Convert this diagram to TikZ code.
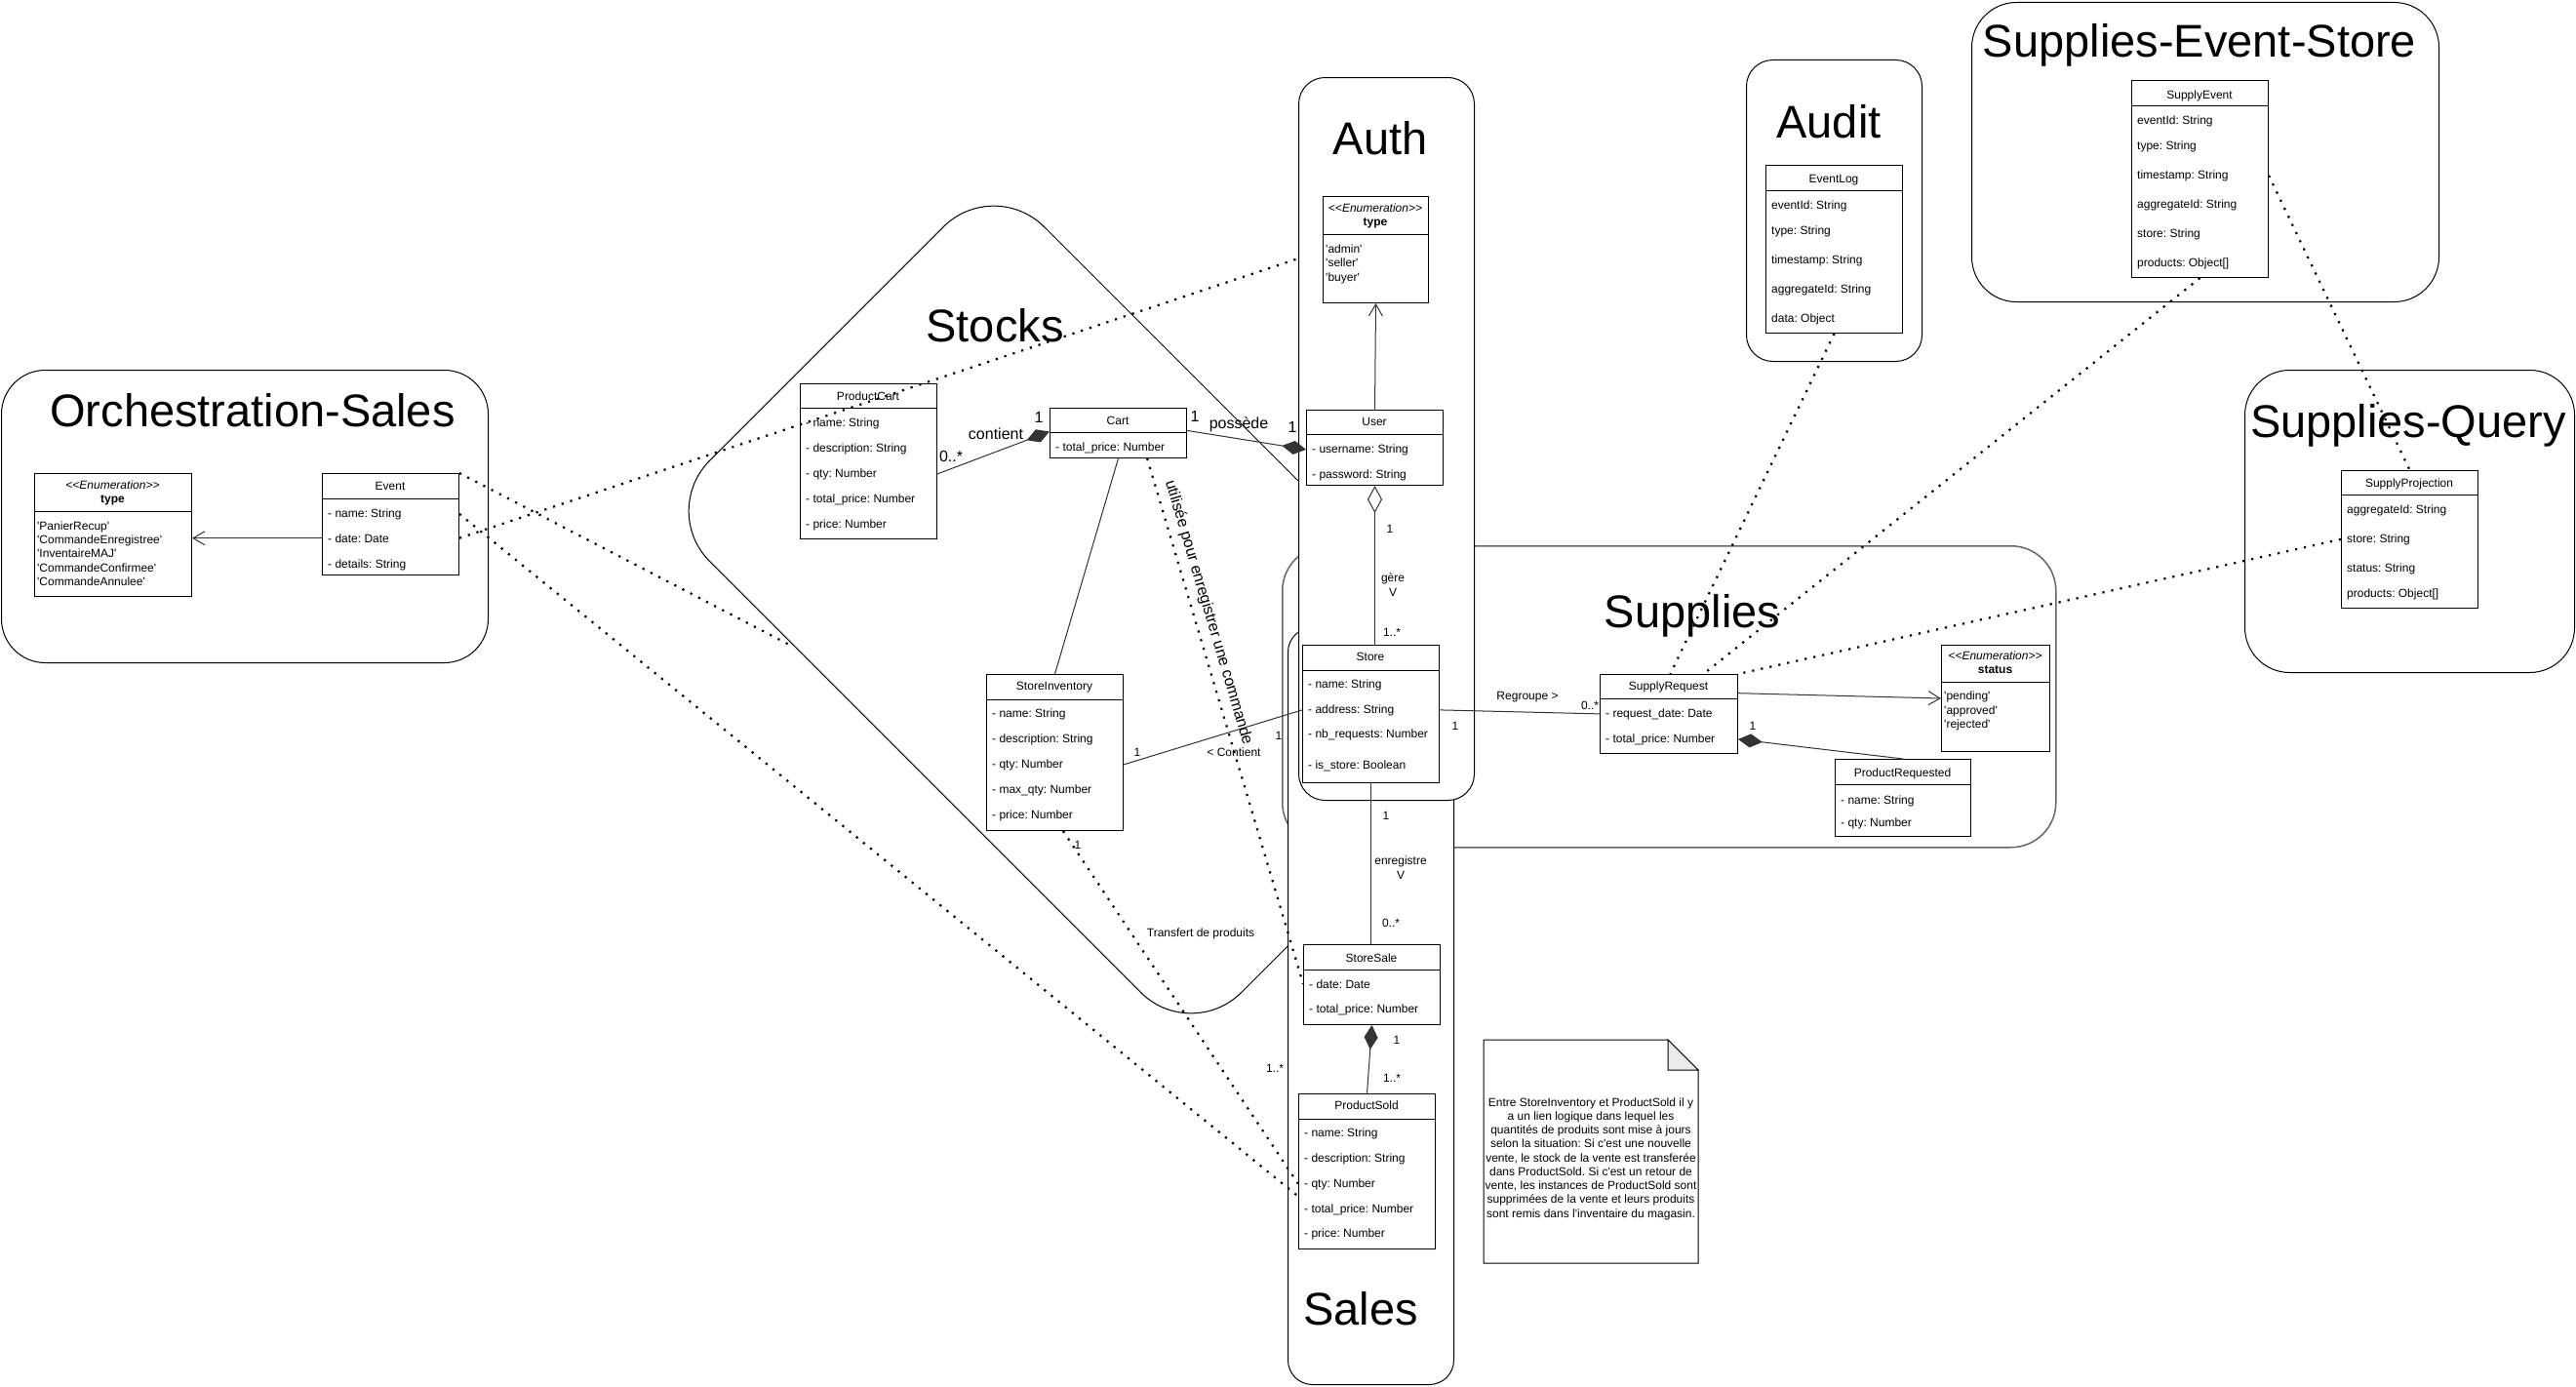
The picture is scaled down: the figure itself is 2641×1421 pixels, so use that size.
\documentclass[tikz,border=0pt]{standalone}
\usepackage{fontspec}
\setmainfont{Liberation Sans}
\usetikzlibrary{arrows.meta,calc}
\frenchspacing
\newcommand\myq{\textquotesingle}
\newcommand\umlclassbox[6]{%
  \node[umlbox, minimum width=#4pt, minimum height=#5pt] (#1) at (#2,#3) {};
  \draw[line width=1pt] ([yshift=-#6pt]#1.north west) -- ([yshift=-#6pt]#1.north east);}
\tikzset{
  umlbox/.style={draw=black, fill=white, line width=1pt, inner sep=0pt, anchor=north west},
  cont/.style={draw=black, fill=white, line width=1pt, inner sep=0pt, anchor=north west},
  ftw/.style={font=\fontsize{12}{14.25}\selectfont},
  attr/.style={ftw, inner sep=0pt, anchor=base west},
  hd/.style={ftw, inner sep=0pt, anchor=base},
  lbl/.style={ftw, inner sep=0pt, anchor=base},
  lblb/.style={font=\fontsize{16}{19}\selectfont, inner sep=0pt, anchor=base},
  ttl/.style={font=\fontsize{47}{56}\selectfont, inner sep=0pt, anchor=base},
  assoc/.style={draw=black!80, line width=1pt},
  dotline/.style={draw=black, line width=2.2pt, dash pattern=on 2.2pt off 7pt},
  openarr/.style={-{Straight Barb[length=12pt,width=14pt]}},
  compo/.style={{Diamond[length=25pt,width=14pt]}-},
  aggr/.style={{Diamond[open,fill=white,length=28pt,width=15pt]}-},
}
\begin{document}
\begin{tikzpicture}[x=1pt,y=-1pt]
\useasboundingbox (0,0) rectangle (2641,1421);
% ---------------- containers
\node[cont, anchor=center, rounded corners=73pt, minimum width=771pt, minimum height=485pt, rotate=-45] (stocks) at (1120,625) {};
\node[cont, rounded corners=45pt, minimum width=499pt, minimum height=300pt] (orch) at (1,379) {};
\node[cont, draw=black!60, line width=1.5pt, rounded corners=46pt, minimum width=793pt, minimum height=309pt] (supplies) at (1314,559) {};
\node[cont, rounded corners=25pt, minimum width=170pt, minimum height=776pt] (sales) at (1320,643) {};
\node[cont, rounded corners=27pt, minimum width=180pt, minimum height=741pt] (auth) at (1331,79) {};
\node[cont, rounded corners=27pt, minimum width=180pt, minimum height=309pt] (audit) at (1790,61) {};
\node[cont, rounded corners=46pt, minimum width=479pt, minimum height=307pt] (ses) at (2021,2) {};
\node[cont, rounded corners=46pt, minimum width=338pt, minimum height=310pt] (sq) at (2301,379) {};
% ---------------- titles
\node[ttl] (t-orch) at (259,437) {Orchestration-Sales};
\node[ttl] (t-stocks) at (1020,350) {Stocks};
\node[ttl] (t-auth) at (1415,158) {Auth};
\node[ttl] (t-audit) at (1875,141) {Audit};
\node[ttl] (t-ses) at (2255,59) {Supplies-Event-Store};
\node[ttl] (t-sq) at (2469,448) {Supplies-Query};
\node[ttl] (t-supplies) at (1735,643) {Supplies};
\node[ttl] (t-sales) at (1395,1358) {Sales};
% ---------------- Orchestration-Sales
\umlclassbox{event}{330}{485}{140}{104}{26}
\node[hd] (event-t) at (400,502) {Event};
\node[attr] (ev1) at (336,530) {- name: String};
\node[attr] (ev2) at (336,556) {- date: Date};
\node[attr] (ev3) at (336,582) {- details: String};
\umlclassbox{osenum}{35}{485}{161}{126}{39}
\node[hd] (osenum-s) at (115.5,501) {\itshape <{}<Enumeration>{}>};
\node[hd] (osenum-t) at (115.5,515) {\bfseries type};
\node[attr] (oe1) at (38,543) {\myq PanierRecup\myq};
\node[attr] (oe2) at (38,557) {\myq CommandeEnregistree\myq};
\node[attr] (oe3) at (38,571) {\myq InventaireMAJ\myq};
\node[attr] (oe4) at (38,586) {\myq CommandeConfirmee\myq};
\node[attr] (oe5) at (38,600) {\myq CommandeAnnulee\myq};
% ---------------- Stocks
\umlclassbox{pcart}{820}{393}{140}{159}{25}
\node[hd] (pcart-t) at (890,410) {ProductCart};
\node[attr] (pc1) at (826,437) {- name: String};
\node[attr] (pc2) at (826,463) {- description: String};
\node[attr] (pc3) at (826,489) {- qty: Number};
\node[attr] (pc4) at (826,515) {- total\_price: Number};
\node[attr] (pc5) at (826,541) {- price: Number};
\umlclassbox{cart}{1076}{418}{140}{51}{25}
\node[hd] (cart-t) at (1146,435) {Cart};
\node[attr] (ca1) at (1082,462) {- total\_price: Number};
\umlclassbox{sinv}{1011}{691}{140}{160}{26}
\node[hd] (sinv-t) at (1081,707) {StoreInventory};
\node[attr] (si1) at (1017,735) {- name: String};
\node[attr] (si2) at (1017,761) {- description: String};
\node[attr] (si3) at (1017,787) {- qty: Number};
\node[attr] (si4) at (1017,813) {- max\_qty: Number};
\node[attr] (si5) at (1017,839) {- price: Number};
% ---------------- Auth
\umlclassbox{authenum}{1356}{201}{108}{109}{39}
\node[hd] (authenum-s) at (1410,217) {\itshape <{}<Enumeration>{}>};
\node[hd] (authenum-t) at (1410,231) {\bfseries type};
\node[attr] (ae1) at (1359,259) {\myq admin\myq};
\node[attr] (ae2) at (1359,273) {\myq seller\myq};
\node[attr] (ae3) at (1359,288) {\myq buyer\myq};
\umlclassbox{user}{1339}{420}{140}{77}{25}
\node[hd] (user-t) at (1409,436) {User};
\node[attr] (us1) at (1345,464) {- username: String};
\node[attr] (us2) at (1345,490) {- password: String};
\umlclassbox{store}{1335}{661}{140}{141}{26}
\node[hd] (store-t) at (1405,677) {Store};
\node[attr] (st1) at (1341,705) {- name: String};
\node[attr] (st2) at (1341,731) {- address: String};
\node[attr] (st3) at (1341,756) {- nb\_requests: Number};
\node[attr] (st4) at (1341,788) {- is\_store: Boolean};
% ---------------- Sales
\umlclassbox{ssale}{1336}{968}{140}{82}{26}
\node[hd] (ssale-t) at (1406,986) {StoreSale};
\node[attr] (ss1) at (1342,1013) {- date: Date};
\node[attr] (ss2) at (1342,1038) {- total\_price: Number};
\umlclassbox{psold}{1331}{1121}{140}{159}{26}
\node[hd] (psold-t) at (1401,1137) {ProductSold};
\node[attr] (ps1) at (1337,1165) {- name: String};
\node[attr] (ps2) at (1337,1191) {- description: String};
\node[attr] (ps3) at (1337,1217) {- qty: Number};
\node[attr] (ps4) at (1337,1243) {- total\_price: Number};
\node[attr] (ps5) at (1337,1268) {- price: Number};
% ---------------- Supplies
\umlclassbox{sreq}{1640}{691}{141}{81}{25}
\node[hd] (sreq-t) at (1710.5,707) {SupplyRequest};
\node[attr] (sr1) at (1646,735) {- request\_date: Date};
\node[attr] (sr2) at (1646,761) {- total\_price: Number};
\umlclassbox{status}{1990}{661}{111}{109}{38}
\node[hd] (status-s) at (2045.5,676) {\itshape <{}<Enumeration>{}>};
\node[hd] (status-t) at (2045.5,690) {\bfseries status};
\node[attr] (sa1) at (1993,717) {\myq pending\myq};
\node[attr] (sa2) at (1993,732) {\myq approved\myq};
\node[attr] (sa3) at (1993,746) {\myq rejected\myq};
\umlclassbox{preq}{1881}{778}{139}{79}{26}
\node[hd] (preq-t) at (1950.5,796) {ProductRequested};
\node[attr] (pr1) at (1887,824) {- name: String};
\node[attr] (pr2) at (1887,847) {- qty: Number};
% ---------------- Audit
\umlclassbox{elog}{1810}{169}{140}{172}{26}
\node[hd] (elog-t) at (1880,187) {EventLog};
\node[attr] (el1) at (1816,214) {eventId: String};
\node[attr] (el2) at (1816,240) {type: String};
\node[attr] (el3) at (1816,270) {timestamp: String};
\node[attr] (el4) at (1816,300) {aggregateId: String};
\node[attr] (el5) at (1816,330) {data: Object};
% ---------------- Supplies-Event-Store
\umlclassbox{sevent}{2185}{82}{140}{202}{26}
\node[hd] (sevent-t) at (2255,101) {SupplyEvent};
\node[attr] (se1) at (2191,127) {eventId: String};
\node[attr] (se2) at (2191,153) {type: String};
\node[attr] (se3) at (2191,183) {timestamp: String};
\node[attr] (se4) at (2191,213) {aggregateId: String};
\node[attr] (se5) at (2191,243) {store: String};
\node[attr] (se6) at (2191,273) {products: Object[]};
% ---------------- Supplies-Query
\umlclassbox{sproj}{2400}{482}{140}{141}{25}
\node[hd] (sproj-t) at (2470,499) {SupplyProjection};
\node[attr] (sp1) at (2406,526) {aggregateId: String};
\node[attr] (sp2) at (2406,556) {store: String};
\node[attr] (sp3) at (2406,586) {status: String};
\node[attr] (sp4) at (2406,612) {products: Object[]};
% ---------------- note
\draw[line width=1pt, fill=white] (1521,1066) -- (1710,1066) -- (1741,1097) -- (1741,1295) -- (1521,1295) -- cycle;
\draw[line width=1pt, fill=black!8] (1710,1066) -- (1710,1097) -- (1741,1097) -- cycle;
\node[ftw, align=center, inner sep=0pt] (note) at (1631,1188) {Entre StoreInventory et ProductSold il y\\a un lien logique dans lequel les\\quantités de produits sont mise à jours\\selon la situation: Si c\myq est une nouvelle\\vente, le stock de la vente est transferée\\dans ProductSold. Si c\myq est un retour de\\vente, les instances de ProductSold sont\\supprimées de la vente et leurs produits\\sont remis dans l\myq inventaire du magasin.};
% ---------------- connectors
\coordinate (d1) at (813,663);
\coordinate (d3) at (1331,265);
\draw[assoc, openarr] (event.west |- ev2) -- (osenum.east |- ev2);
\draw[assoc, openarr] (user.north) -- (authenum.south);
\draw[assoc, aggr] (user.south) -- (user.south |- store.north);
\draw[assoc, compo] (user.west |- us1) -- ($(cart.north east)!0.45!(cart.south east)$);
\draw[assoc, compo] ($(cart.north west)!0.47!(cart.south west)$) -- (pcart.east |- pc3);
\draw[assoc] (cart.south) -- (sinv.north);
\draw[assoc] (sinv.east |- si3) -- (store.west |- st2);
\draw[assoc] (store.east |- st2) -- (sreq.west |- sr1);
\draw[assoc] (store.south) -- (store.south |- ssale.north);
\draw[assoc, compo] (ssale.south) -- (psold.north);
\draw[assoc, openarr] ($(sreq.north east)!0.24!(sreq.south east)$) -- ($(status.north west)!0.5!(status.south west)$);
\draw[assoc, compo] (sreq.east |- sr2) -- ($(preq.north west)!0.5!(preq.north east)$);
% dotted
\draw[dotline] (event.north east) -- (d1);
\draw[dotline] (event.east |- ev1) -- ($(psold.north west)!0.66!(psold.south west)$);
\draw[dotline] (event.east |- ev2) -- (d3);
\draw[dotline] ($(sinv.south west)!0.56!(sinv.south east)$) -- (psold.west |- ps3);
\draw[dotline] ($(cart.south west)!0.71!(cart.south east)$) -- (ssale.west |- ss1);
\draw[dotline] (elog.south) -- ($(sreq.north west)!0.51!(sreq.north east)$);
\draw[dotline] (sevent.south) -- ($(sreq.north west)!0.75!(sreq.north east)$);
\draw[dotline] (sproj.west |- sp2) -- (sreq.north east);
\draw[dotline] (sevent.east |- se3) -- (sproj.north);
% ---------------- labels
\node[lbl] (lb1) at (1425,546) {1};
\node[lbl] (lb2) at (1428,596) {gère};
\node[lbl] (lb3) at (1428,611) {V};
\node[lbl] (lb4) at (1427,652) {1..*};
\node[lblb] (lb5) at (1225,432) {1};
\node[lblb] (lb6) at (1270,439) {possède};
\node[lblb] (lb7) at (1325,443) {1};
\node[lblb] (lb8) at (1065,433) {1};
\node[lblb] (lb9) at (1021,450) {contient};
\node[lblb] (lb10) at (975,473) {0..*};
\node[lbl] (lb11) at (1166,775) {1};
\node[lbl] (lb12) at (1311,758) {1};
\node[lbl] (lb13) at (1265,775) {< Contient};
\node[lbl] (lb14) at (1566,717) {Regroupe >};
\node[lbl] (lb15) at (1630,727) {0..*};
\node[lbl] (lb16) at (1492,748) {1};
\node[lbl] (lb17) at (1421,840) {1};
\node[lbl] (lb18) at (1436,886) {enregistre};
\node[lbl] (lb19) at (1436,901) {V};
\node[lbl] (lb20) at (1426,950) {0..*};
\node[lbl] (lb21) at (1432,1070) {1};
\node[lbl] (lb22) at (1427,1109) {1..*};
\node[lbl] (lb23) at (1797,748) {1};
\node[lbl] (lb24) at (1105,870) {1};
\node[lbl] (lb25) at (1307,1099) {1..*};
\node[lbl] (lb26) at (1231,960) {Transfert de produits};
\node[font=\fontsize{16}{19}\selectfont, inner sep=0pt, rotate=-73.5] (lb27) at (1239,628) {utilisée pour enregistrer une commande};
\end{tikzpicture}
\end{document}
